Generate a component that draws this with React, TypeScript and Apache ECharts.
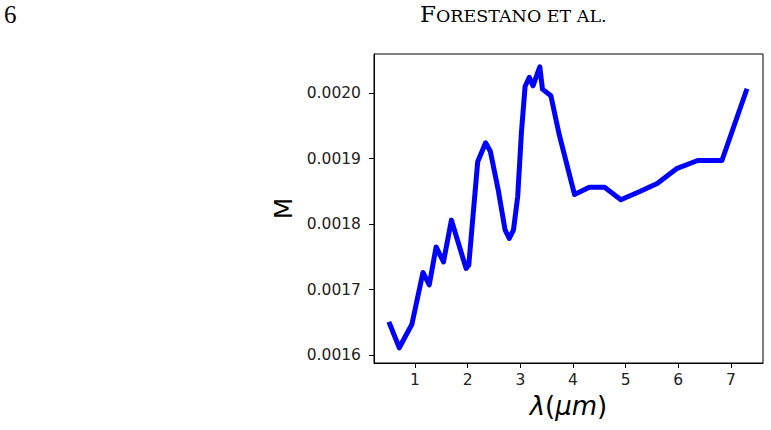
import React, { useEffect, useRef } from "react";
import * as echarts from "echarts";

const wavelengths = [0.52, 0.70, 0.94, 1.15, 1.27, 1.40, 1.54, 1.69, 1.97, 2.02, 2.19, 2.34, 2.43, 2.58, 2.71, 2.79, 2.87, 2.95, 3.02, 3.09, 3.17, 3.24, 3.37, 3.42, 3.58, 3.74, 4.03, 4.31, 4.60, 4.91, 5.28, 5.60, 5.98, 6.37, 6.83, 7.29];
const mValues = [0.001647, 0.001611, 0.001647, 0.001726, 0.001707, 0.001765, 0.001742, 0.001806, 0.001732, 0.001737, 0.001895, 0.001924, 0.001911, 0.001852, 0.001791, 0.001778, 0.001791, 0.001842, 0.001939, 0.002010, 0.002024, 0.002011, 0.002040, 0.002006, 0.001996, 0.001936, 0.001845, 0.001856, 0.001856, 0.001837, 0.001850, 0.001862, 0.001885, 0.001897, 0.001897, 0.002003];
const xTicks = [1, 2, 3, 4, 5, 6, 7];
const yTicks = [0.0016, 0.0017, 0.0018, 0.0019, 0.0020];
const pageNumber = "6";
const headerFirst = "F";
const headerRest = "ORESTANO ET AL.";

export default function App() {
  const ref = useRef<HTMLDivElement>(null);
  useEffect(() => {
    if (!ref.current) return;
    const chart = echarts.init(ref.current, undefined, { renderer: "svg" });
    const tickFont = "DejaVu Sans";
    chart.setOption({
      animation: false,
      backgroundColor: "#ffffff",
      grid: { left: 374, right: 8, top: 54, bottom: 67, show: true, borderColor: "#000", borderWidth: 1, backgroundColor: "transparent" },
      graphic: [
        { type: "text", left: 4, top: 2, style: { text: pageNumber, font: '25px "Liberation Serif", serif', fill: "#000" } },
        {
          type: "text", left: 420, top: 2,
          style: {
            text: `{b|${headerFirst}}{s|${headerRest}}`,
            rich: {
              b: { font: '23px "DejaVu Serif", serif', fill: "#000", verticalAlign: "bottom" },
              s: { font: '17.5px "DejaVu Serif", serif', fill: "#000", verticalAlign: "bottom" },
            },
          },
        },
      ],
      xAxis: {
        type: "value",
        min: 0.22,
        max: 7.61,
        name: "{i|λ}{n|(}{i|μm}{n|)}",
        nameLocation: "middle",
        nameGap: 27,
        nameTextStyle: {
          rich: {
            i: { fontFamily: "DejaVu Sans", fontStyle: "italic", fontSize: 26, color: "#000" },
            n: { fontFamily: "DejaVu Sans", fontSize: 26, color: "#000" },
          },
        },
        axisLine: { show: true, lineStyle: { color: "#000", width: 1 } },
        axisTick: { show: true, inside: false, length: 5, customValues: xTicks, lineStyle: { color: "#000" } },
        axisLabel: { customValues: xTicks, margin: 9, fontFamily: tickFont, fontSize: 15.5, color: "#222", formatter: (v: number) => String(v) },
        splitLine: { show: false },
      },
      yAxis: {
        type: "value",
        min: 0.0015878,
        max: 0.0020596,
        name: "M",
        nameLocation: "middle",
        nameGap: 76,
        nameRotate: 90,
        nameTextStyle: { fontFamily: "DejaVu Sans", fontSize: 25, color: "#000" },
        axisLine: { show: true, lineStyle: { color: "#000", width: 1 } },
        axisTick: { show: true, inside: false, length: 5, customValues: yTicks, lineStyle: { color: "#000" } },
        axisLabel: { customValues: yTicks, margin: 13, fontFamily: tickFont, fontSize: 15.5, color: "#222", formatter: (v: number) => v.toFixed(4) },
        splitLine: { show: false },
      },
      series: [
        {
          type: "line",
          data: wavelengths.map((x, i) => [x, mValues[i]]),
          showSymbol: false,
          lineStyle: { color: "#0000ff", width: 5, cap: "square", join: "round" },
          clip: false,
        },
      ],
    });
    return () => chart.dispose();
  }, []);
  return <div ref={ref} style={{ position: "fixed", left: 0, top: 0, width: 771, height: 430 }} />;
}
